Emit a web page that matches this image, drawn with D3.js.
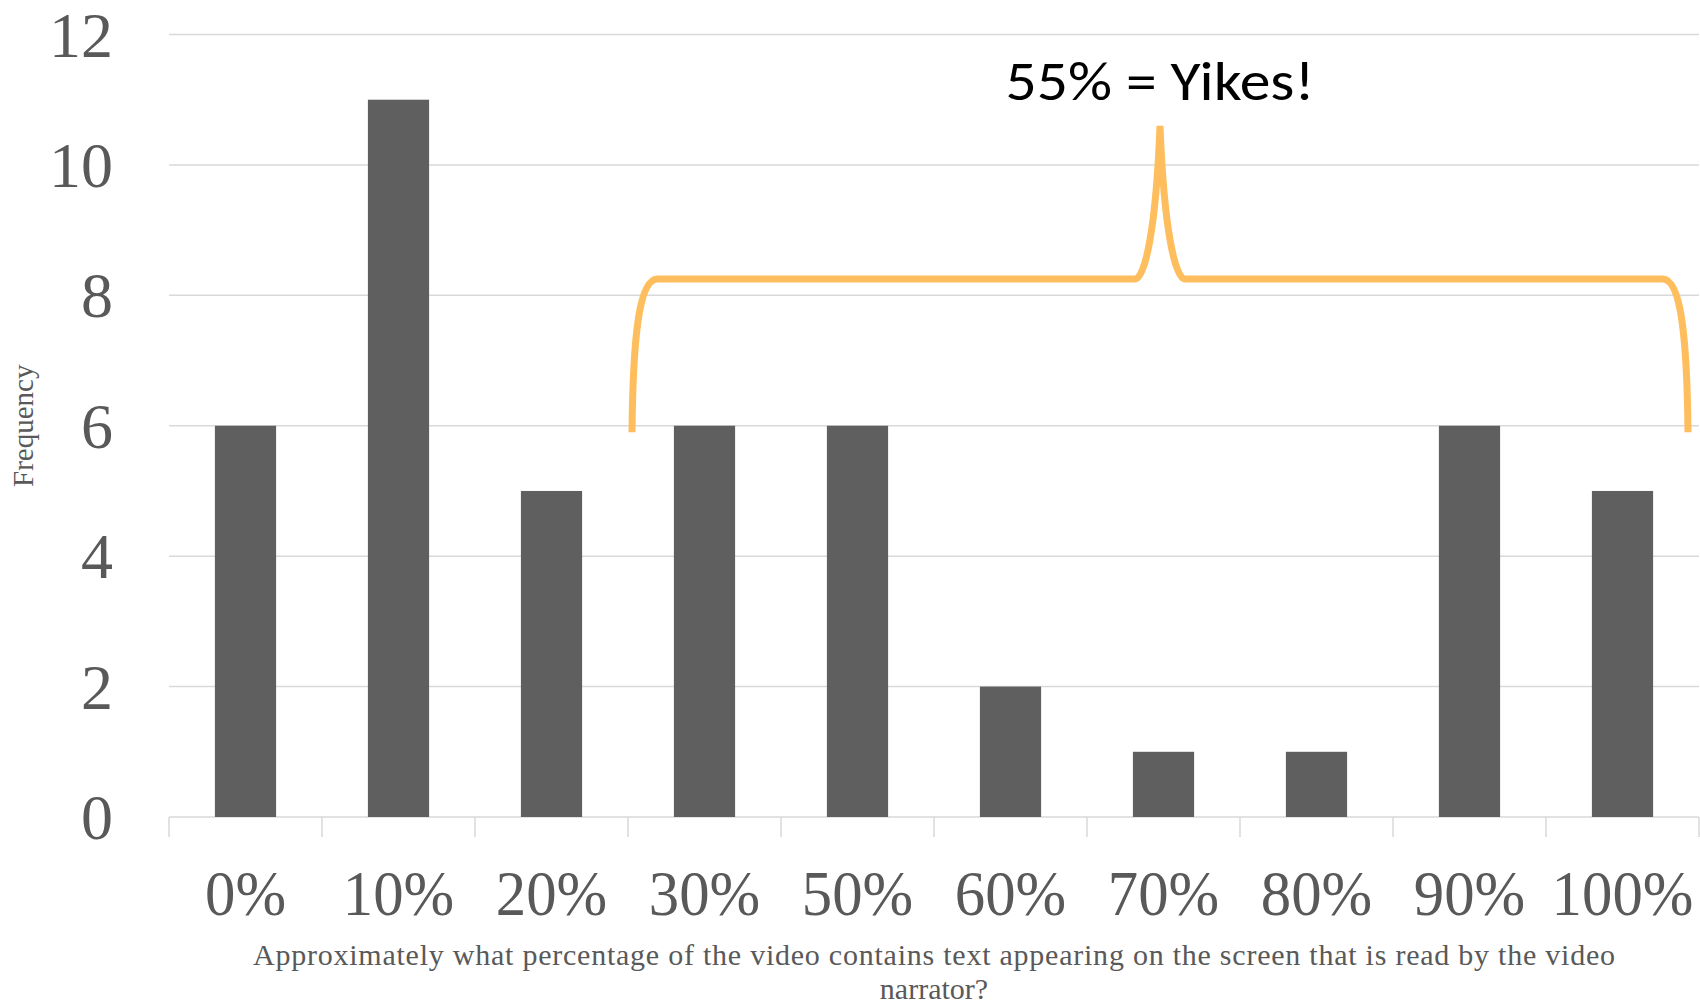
<!DOCTYPE html>
<html>
<head>
<meta charset="utf-8">
<script src="https://cdn.jsdelivr.net/npm/d3@7"></script>
<style>
  html, body { margin: 0; padding: 0; background: #ffffff; }
  svg { display: block; }
</style>
</head>
<body>
<script>
// Survey responses: share of the video whose on-screen text is read aloud
const categories = ["0%", "10%", "20%", "30%", "50%", "60%", "70%", "80%", "90%", "100%"];
const frequency = [6, 11, 5, 6, 6, 2, 1, 1, 6, 5];
const yTicks = [0, 2, 4, 6, 8, 10, 12];
const xTitleLines = [
  "Approximately what percentage of the video contains text appearing on the screen that is read by the video",
  "narrator?"
];
const yTitle = "Frequency";
const callout = "55% = Yikes!";

const W = 1700, H = 1006;
const plot = { left: 169, right: 1699, top: 34.5, bottom: 817 };
const axisGrey = "#595959";
const serif = "'Liberation Serif', 'Times New Roman', serif";

const svg = d3.select("body").append("svg")
  .attr("width", W).attr("height", H)
  .attr("viewBox", `0 0 ${W} ${H}`);

svg.append("rect").attr("width", W).attr("height", H).attr("fill", "#ffffff");

// Category slots (for ticks and labels) and bar positions inside them
const xCat = d3.scaleBand().domain(categories).range([plot.left, plot.right]);
const x = d3.scaleBand().domain(categories).range([plot.left, plot.right])
  .paddingInner(0.6).paddingOuter(0.3);
const y = d3.scaleLinear().domain([0, 12]).range([plot.bottom, plot.top]);

// Horizontal gridlines
svg.append("g").selectAll("line").data(yTicks).join("line")
  .attr("x1", plot.left).attr("x2", plot.right)
  .attr("y1", d => y(d)).attr("y2", d => y(d))
  .attr("stroke", "#d9d9d9").attr("stroke-width", 1.5);

// Y tick labels
svg.append("g").selectAll("text").data(yTicks).join("text")
  .attr("x", 113).attr("y", d => y(d) + 22)
  .attr("text-anchor", "end")
  .attr("font-family", serif).attr("font-size", 64)
  .attr("fill", axisGrey)
  .text(d => d);

// Bars
svg.append("g").selectAll("rect").data(categories).join("rect")
  .attr("x", d => x(d))
  .attr("width", x.bandwidth())
  .attr("y", (d, i) => y(frequency[i]))
  .attr("height", (d, i) => y(0) - y(frequency[i]))
  .attr("fill", "#5f5f5f");

// Category boundary ticks below the baseline
const boundaries = categories.map(c => xCat(c)).concat([plot.right]);
svg.append("g").selectAll("line").data(boundaries).join("line")
  .attr("x1", d => d).attr("x2", d => d)
  .attr("y1", plot.bottom).attr("y2", plot.bottom + 20)
  .attr("stroke", "#d9d9d9").attr("stroke-width", 1.5);

// X tick labels (slightly condensed serif)
svg.append("g").selectAll("text").data(categories).join("text")
  .attr("transform", d => `translate(${xCat(d) + xCat.bandwidth() / 2}, 915) scale(0.95, 1)`)
  .attr("text-anchor", "middle")
  .attr("font-family", serif).attr("font-size", 64)
  .attr("fill", axisGrey)
  .text(d => d);

// X axis title (two lines, first one justified across the plot)
const cx = (plot.left + plot.right) / 2;
svg.append("text")
  .attr("x", cx).attr("y", 965)
  .attr("text-anchor", "middle")
  .attr("font-family", serif).attr("font-size", 30)
  .attr("fill", axisGrey)
  .attr("textLength", 1362).attr("lengthAdjust", "spacing")
  .text(xTitleLines[0]);
svg.append("text")
  .attr("x", cx).attr("y", 999)
  .attr("text-anchor", "middle")
  .attr("font-family", serif).attr("font-size", 30)
  .attr("fill", axisGrey)
  .text(xTitleLines[1]);

// Y axis title
svg.append("text")
  .attr("transform", `translate(33, ${y(6)}) rotate(-90)`)
  .attr("text-anchor", "middle")
  .attr("font-family", serif).attr("font-size", 29)
  .attr("fill", axisGrey)
  .text(yTitle);

// Curly brace spanning 30%–100%
const bx0 = xCat("30%") + 4;
const bx1 = plot.right - 11;
const bxm = (bx0 + bx1) / 2;
const yEnd = y(5.9), yBar = y(8.25), yTip = y(10.6);

function halfBrace(p, xe, dir) {
  // xe: outer end, dir: +1 for left half, -1 for right half
  p.moveTo(xe, yEnd);
  p.bezierCurveTo(xe + 1 * dir, yEnd - 102, xe + 8 * dir, yBar + 1, xe + 25 * dir, yBar);
  p.lineTo(bxm - 25 * dir, yBar);
  p.bezierCurveTo(bxm - 15 * dir, yBar, bxm - 4 * dir, yBar - 50, bxm, yTip);
}
const brace = d3.path();
halfBrace(brace, bx0, 1);
halfBrace(brace, bx1, -1);
svg.append("path")
  .attr("d", brace.toString())
  .attr("fill", "none")
  .attr("stroke", "#ffbe5e")
  .attr("stroke-width", 7)
  .attr("stroke-linecap", "butt")
  .attr("stroke-linejoin", "round");

// Callout text
svg.append("text")
  .attr("x", bxm).attr("y", 100)
  .attr("text-anchor", "middle")
  .attr("font-family", "Carlito, Lato, 'Open Sans', sans-serif")
  .attr("font-size", 56)
  .attr("fill", "#000000")
  .attr("textLength", 309).attr("lengthAdjust", "spacingAndGlyphs")
  .text(callout);
</script>
</body>
</html>
